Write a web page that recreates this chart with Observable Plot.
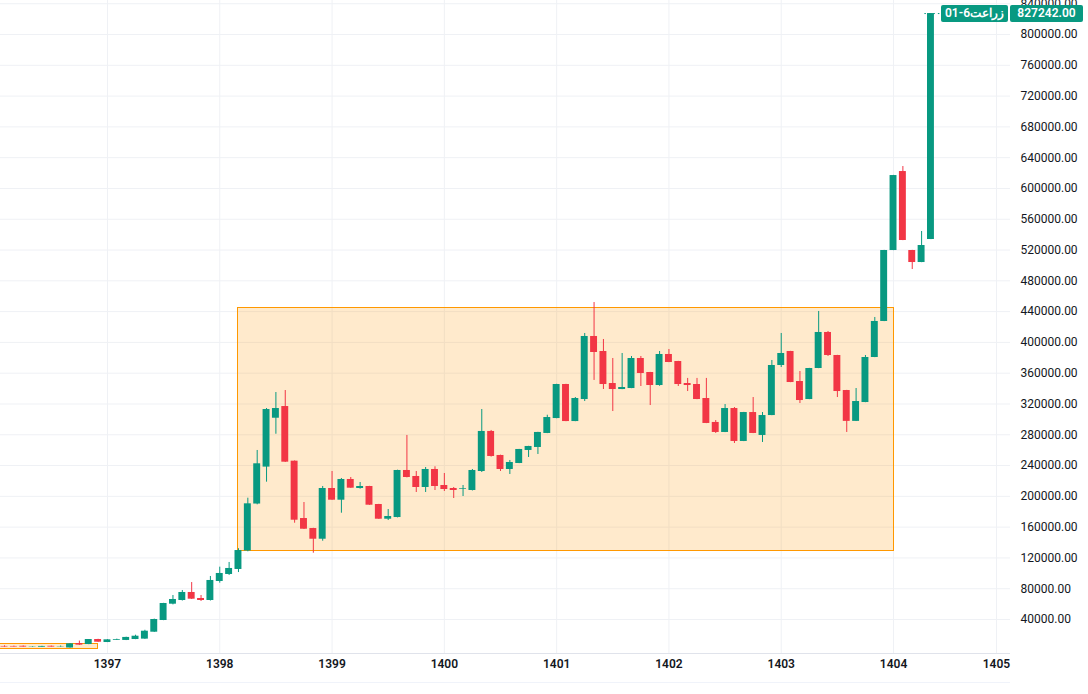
<!DOCTYPE html>
<html><head><meta charset="utf-8">
<script src="https://cdn.jsdelivr.net/npm/d3@7"></script>
<script src="https://cdn.jsdelivr.net/npm/@observablehq/plot@0.6"></script>
<style>
html,body{margin:0;padding:0;background:#fff;overflow:hidden}
#wrap{position:relative;width:1088px;height:694px;font-family:Roboto,"Noto Sans",sans-serif}
.tag{position:absolute;height:17px;line-height:17px;color:#fff;background:#089981;font-size:12px;font-weight:600;border-radius:2px;text-align:center;white-space:nowrap}
.sep{position:absolute;left:0;width:1010px;height:1px;background:#f0f3fa}
</style></head><body><div id="wrap"></div>
<script>
// Monthly candles (index 0 = first visible bar)
const open  = [5000,5000,5200,4000,4000,5200,4200,3000,8800,7500,14000,10100,13000,12800,14000,14500,23500,38700,59900,64700,
  75100,67300,64700,89400,98500,105000,129000,190000,238000,301500,316700,245700,171200,158200,144300,210200,195000,221900,210200,212800,
  189400,170300,172500,233600,225800,211500,234900,214100,210200,209300,207600,232300,284300,253100,234900,242700,259600,263500,281700,301100,
  345300,297200,325800,407700,388200,346600,338800,340100,379100,360900,344000,384300,375200,346600,345300,327100,296000,283000,314100,271300,
  308900,279100,305000,370000,388200,349200,325800,366100,412900,383000,337500,297400,321900,380400,427200,519400,622000,519400,503800,533700];
const high  = [5800,5400,5600,4600,5200,5500,5600,8600,12000,14000,14300,13800,14500,17000,19600,26000,40500,61000,71200,77700,
  88000,71200,95900,108000,114100,132000,197600,259600,314100,334900,337500,246000,192000,158500,212800,232300,223200,224500,218000,213000,
  189600,182900,234000,279100,232300,237500,238400,229700,211500,214100,234900,312800,285600,253500,246600,261000,265000,283200,305400,345600,
  345600,328400,411600,451800,403800,379100,385600,381700,381700,361100,388200,390800,375400,353200,353200,353200,298500,319300,315400,309100,
  328400,308900,376500,411600,388400,362200,366300,440200,414200,383200,337700,340100,383000,432400,519600,617000,628500,519600,544100,827242];
const low   = [4000,4200,4100,3800,3800,4100,4000,2800,6300,7300,10300,10000,12800,12600,13800,14300,23300,38500,59000,64000,
  66000,63400,64000,87200,97200,101000,128000,189000,218400,280700,244000,165100,157000,126100,141700,194800,178100,210400,209300,188300,
  170100,168600,172000,224000,205000,205000,207600,206300,197200,199800,207000,231000,251000,232300,228400,242500,250500,254400,281500,300800,
  297000,297000,323200,350600,338800,310200,338600,339900,342700,318000,343000,373700,342700,336200,325600,294500,281700,282800,268700,271100,
  281500,270000,304800,367400,347700,320600,325600,365900,381700,328400,283000,297200,321700,380200,427000,519200,532200,494700,503600,533500];
const close = [4300,4300,4200,4400,5000,4200,4600,8400,6700,14000,10500,13600,14000,16700,18300,24800,40000,60800,66000,75100,
  66400,64700,90700,99800,106300,129600,190300,242300,312800,314100,244400,169000,157300,144300,210200,195000,221900,210600,212800,188500,
  170300,173800,233600,224500,211500,234900,212800,208900,207600,210200,233600,284300,251800,234900,244000,260900,264800,283000,302400,345300,
  297200,327100,407700,386900,345300,338800,341400,379100,359600,344000,384300,373900,345300,344000,325800,294700,283000,314100,271300,308900,
  281700,305000,370000,385600,347900,324500,366100,412900,383000,336200,297400,323200,380400,427200,519400,616800,532400,503800,525900,827242];

// Year tick labels and the bar index where each year starts
const yearLabels    = ["1397","1398","1399","1400","1401","1402","1403","1404","1405"];
const yearTickIndex = [11, 23, 35, 47, 59, 71, 83, 95, 106];

// Price axis ticks
const priceTicks = [40000,80000,120000,160000,200000,240000,280000,320000,360000,400000,440000,480000,520000,560000,600000,640000,680000,720000,760000,800000,840000];

// Highlighted zones (bar index range, price range)
const zoneStart = [-5, 25];
const zoneEnd   = [10, 95];
const zoneLow   = [2300, 129600];
const zoneHigh  = [8800, 445300];

const symbolName = "زراعت6-01";
const lastPrice = 827242;

const UP = "#089981", DOWN = "#f23645", GRID = "#eff1f5";
const candles = open.map((o, i) => ({i, o, h: high[i], l: low[i], c: close[i], col: close[i] >= o ? UP : DOWN}));
const zones = zoneStart.map((s, k) => ({x1: s, x2: zoneEnd[k], lo: zoneLow[k], hi: zoneHigh[k]}));
const lastIdx = close.length - 1;
const yMin = -4170, yMax = 844210;

const chart = Plot.plot({
  width: 1088, height: 694,
  marginLeft: 0, marginRight: 78, marginTop: 0, marginBottom: 41,
  style: {fontFamily: "Roboto, 'Noto Sans', sans-serif", fontSize: "12px", color: "#131722", background: "transparent"},
  x: {domain: [-0.43, 107.5], axis: null},
  y: {domain: [yMin, yMax], axis: null},
  color: {type: "identity"},
  marks: [
    Plot.gridY(priceTicks, {stroke: GRID, strokeOpacity: 1}),
    Plot.gridX(yearTickIndex, {stroke: GRID, strokeOpacity: 1}),
    Plot.ruleY([yMin], {stroke: "#e0e3eb"}),
    Plot.rect(zones, {x1: "x1", x2: "x2", y1: "lo", y2: "hi", fill: "#ff9800", fillOpacity: 0.2, stroke: "#ff9800", strokeWidth: 1, clip: true, shapeRendering: "crispEdges"}),
    Plot.ruleX(candles, {x: "i", y1: "l", y2: "h", stroke: "col", strokeWidth: 1}),
    Plot.rect(candles, {x1: d => d.i - 0.37, x2: d => d.i + 0.37, y1: d => Math.min(d.o, d.c), y2: d => Math.max(d.o, d.c), fill: "col"}),
    Plot.ruleY([lastPrice], {x1: lastIdx - 0.65, x2: lastIdx + 1.1, stroke: UP, strokeWidth: 1, strokeDasharray: "1.5,3"}),
    Plot.axisY(priceTicks, {anchor: "right", tickSize: 0, tickPadding: 10, textAnchor: "start", tickFormat: d => d.toFixed(2), fill: "#131722"}),
    Plot.axisX(yearTickIndex, {anchor: "bottom", tickSize: 0, tickPadding: 6, tickFormat: d => yearLabels[yearTickIndex.indexOf(d)], fill: "#131722", fontWeight: 600})
  ]
});
const wrap = document.getElementById("wrap");
wrap.appendChild(chart);

const yPix = chart.scale("y").apply(lastPrice);
const nameTag = document.createElement("div");
nameTag.className = "tag";
nameTag.style.left = "941px"; nameTag.style.width = "67px"; nameTag.style.top = (yPix - 8.5) + "px";
nameTag.textContent = symbolName;
wrap.appendChild(nameTag);
const priceTag = document.createElement("div");
priceTag.className = "tag";
priceTag.style.left = "1010px"; priceTag.style.width = "73px"; priceTag.style.top = (yPix - 8.5) + "px";
priceTag.textContent = lastPrice.toFixed(2);
wrap.appendChild(priceTag);
const sep = document.createElement("div");
sep.className = "sep"; sep.style.top = "682px";
wrap.appendChild(sep);
</script></body></html>
